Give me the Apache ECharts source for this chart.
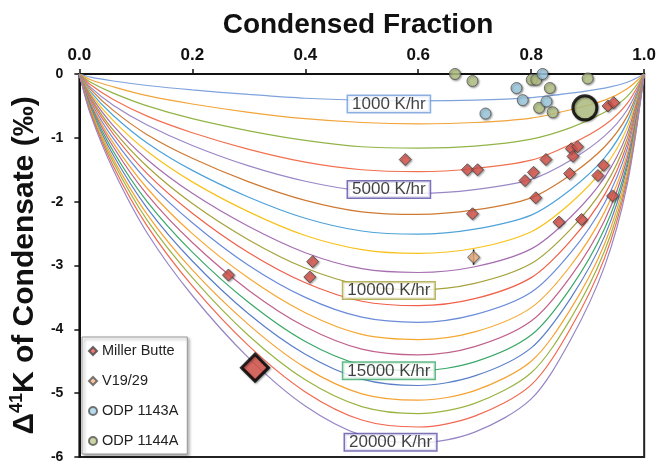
<!DOCTYPE html>
<html>
<head>
<meta charset="utf-8">
<script src="https://cdn.jsdelivr.net/npm/echarts@6/dist/echarts.min.js"></script>
<style>
  html, body { margin: 0; padding: 0; background: #fff; }
  #chart { width: 659px; height: 464px; }
</style>
</head>
<body>
<div id="chart"></div>
<script>
// Condensed fraction sample positions shared by every model curve
const fractions = [0, 0.02, 0.06, 0.12, 0.2, 0.3, 0.4, 0.5, 0.6, 0.7, 0.8, 0.87, 0.93, 0.97, 1];

// Model curves: Δ41K of condensate (‰) at each fraction, one per cooling rate
const k1000  = [0, -0.05, -0.11, -0.18, -0.25, -0.32, -0.38, -0.41, -0.42, -0.41, -0.37, -0.30, -0.22, -0.13, 0];
const k2000  = [0, -0.09, -0.20, -0.34, -0.47, -0.60, -0.70, -0.76, -0.78, -0.76, -0.69, -0.56, -0.41, -0.23, 0];
const k3000  = [0, -0.13, -0.30, -0.50, -0.70, -0.89, -1.04, -1.14, -1.16, -1.13, -1.02, -0.84, -0.60, -0.35, 0];
const k4000  = [0, -0.17, -0.40, -0.66, -0.92, -1.18, -1.38, -1.50, -1.53, -1.48, -1.35, -1.10, -0.80, -0.46, 0];
const k5000  = [0, -0.21, -0.49, -0.80, -1.12, -1.44, -1.68, -1.83, -1.87, -1.81, -1.65, -1.35, -0.97, -0.56, 0];
const k6000  = [0, -0.24, -0.57, -0.95, -1.32, -1.69, -1.98, -2.16, -2.20, -2.13, -1.94, -1.58, -1.14, -0.66, 0];
const k7000  = [0, -0.28, -0.65, -1.08, -1.51, -1.93, -2.26, -2.46, -2.51, -2.43, -2.21, -1.81, -1.31, -0.75, 0];
const k8000  = [0, -0.31, -0.73, -1.21, -1.69, -2.16, -2.53, -2.75, -2.81, -2.73, -2.47, -2.02, -1.46, -0.84, 0];
const k9000  = [0, -0.34, -0.81, -1.34, -1.87, -2.39, -2.80, -3.05, -3.11, -3.02, -2.74, -2.24, -1.62, -0.93, 0];
const k10000 = [0, -0.37, -0.88, -1.45, -2.03, -2.60, -3.04, -3.31, -3.38, -3.28, -2.97, -2.43, -1.76, -1.01, 0];
const k11000 = [0, -0.40, -0.94, -1.56, -2.18, -2.80, -3.27, -3.56, -3.63, -3.52, -3.19, -2.61, -1.89, -1.09, 0];
const k12000 = [0, -0.43, -1.01, -1.67, -2.33, -3.00, -3.50, -3.81, -3.89, -3.77, -3.42, -2.80, -2.02, -1.17, 0];
const k13000 = [0, -0.46, -1.08, -1.79, -2.50, -3.20, -3.74, -4.08, -4.16, -4.04, -3.66, -3.00, -2.16, -1.25, 0];
const k14000 = [0, -0.48, -1.14, -1.89, -2.64, -3.39, -3.96, -4.31, -4.40, -4.27, -3.87, -3.17, -2.29, -1.32, 0];
const k15000 = [0, -0.51, -1.21, -2.00, -2.79, -3.58, -4.19, -4.56, -4.65, -4.51, -4.09, -3.35, -2.42, -1.40, 0];
const k16000 = [0, -0.54, -1.27, -2.10, -2.93, -3.76, -4.39, -4.78, -4.88, -4.73, -4.29, -3.51, -2.54, -1.46, 0];
const k17000 = [0, -0.56, -1.33, -2.20, -3.07, -3.93, -4.60, -5.01, -5.11, -4.96, -4.50, -3.68, -2.66, -1.53, 0];
const k18000 = [0, -0.59, -1.38, -2.29, -3.19, -4.10, -4.79, -5.21, -5.32, -5.16, -4.68, -3.83, -2.77, -1.60, 0];
const k19000 = [0, -0.61, -1.44, -2.38, -3.32, -4.26, -4.98, -5.42, -5.53, -5.36, -4.87, -3.98, -2.88, -1.66, 0];
const k20000 = [0, -0.64, -1.50, -2.49, -3.47, -4.45, -5.20, -5.66, -5.78, -5.61, -5.09, -4.16, -3.01, -1.73, 0];

const rates = [1000, 2000, 3000, 4000, 5000, 6000, 7000, 8000, 9000, 10000,
               11000, 12000, 13000, 14000, 15000, 16000, 17000, 18000, 19000, 20000];
const curveRows = [k1000, k2000, k3000, k4000, k5000, k6000, k7000, k8000, k9000, k10000,
                   k11000, k12000, k13000, k14000, k15000, k16000, k17000, k18000, k19000, k20000];
const curveColors = ['#7ea3dc', '#f2a43a', '#92b447', '#f2704f', '#9a87c6', '#cf7a33', '#4ea3d8',
                     '#f8c21c', '#a66fb0', '#a6a23c', '#f0604a', '#6a8bd8', '#f7a731', '#c0628c',
                     '#3aa868', '#5a7fc8', '#f5a233', '#9ab443', '#f2674f', '#9786c4'];

// Labelled rates and where their tags sit
const tagRates = ['1000 K/hr', '5000 K/hr', '10000 K/hr', '15000 K/hr', '20000 K/hr'];
const tagX = [0.548, 0.548, 0.548, 0.548, 0.551];
const tagY = [-0.47, -1.81, -3.39, -4.65, -5.77];
const tagBorder = ['#6f9ad8', '#5a4fa6', '#a6a23c', '#3aa868', '#5a4fa6'];

// Measured samples
const millerX = [0.936, 0.946, 0.577, 0.687, 0.705, 0.826, 0.871, 0.882, 0.874, 0.804, 0.789, 0.868,
                 0.928, 0.918, 0.808, 0.696, 0.944, 0.849, 0.889, 0.264, 0.413, 0.408];
const millerY = [-0.50, -0.45, -1.34, -1.50, -1.50, -1.34, -1.17, -1.14, -1.29, -1.54, -1.67, -1.56,
                 -1.43, -1.59, -1.94, -2.19, -1.91, -2.32, -2.28, -3.15, -2.94, -3.18];
const millerMeanX = [0.311];
const millerMeanY = [-4.60];

const v1929X = [0.698];
const v1929Y = [-2.87];
const v1929Err = [0.12];

const odp1143X = [0.820, 0.774, 0.785, 0.827, 0.719];
const odp1143Y = [0.00, -0.22, -0.41, -0.43, -0.62];

const odp1144X = [0.665, 0.696, 0.801, 0.809, 0.833, 0.900, 0.814, 0.838];
const odp1144Y = [-0.00, -0.11, -0.09, -0.09, -0.22, -0.07, -0.53, -0.60];
const odp1144MeanX = [0.895];
const odp1144MeanY = [-0.53];

const tickLabels = ['0.0', '0.2', '0.4', '0.6', '0.8', '1.0'];

const FONT = 'Liberation Sans, Arial, sans-serif';
const zip = (xs, ys) => xs.map((x, i) => [x, ys[i]]);
const markShadow = { shadowBlur: 2, shadowOffsetX: 1, shadowOffsetY: 1, shadowColor: 'rgba(0,0,0,0.45)' };

const series = [];

curveRows.forEach((row, i) => {
  series.push({
    name: rates[i] + ' K/hr',
    type: 'line',
    data: zip(fractions, row),
    symbol: 'none',
    smooth: 0.3,
    lineStyle: { color: curveColors[i], width: 1.2 },
    z: 2,
    silent: true
  });
});

series.push({
  name: 'rateTags',
  type: 'scatter',
  data: tagRates.map((t, i) => ({ value: [tagX[i], tagY[i]], label: { borderColor: tagBorder[i] } })),
  symbolSize: 0,
  z: 5,
  label: {
    show: true,
    position: 'inside',
    formatter: (p) => tagRates[p.dataIndex],
    fontFamily: FONT,
    fontSize: 17,
    color: '#111',
    backgroundColor: '#fff',
    borderWidth: 1.5,
    padding: [0, 4, -1, 4]
  }
});

// Error bar of the V19/29 sample
series.push({
  name: 'v1929bar',
  type: 'line',
  data: [[v1929X[0], v1929Y[0] - v1929Err[0]], [v1929X[0], v1929Y[0] + v1929Err[0]]],
  symbol: 'none',
  lineStyle: { color: '#111', width: 1.5 },
  z: 6,
  silent: true
});

series.push({
  name: 'ODP 1144A',
  type: 'scatter',
  data: zip(odp1144X, odp1144Y),
  symbol: 'circle',
  symbolSize: 11,
  itemStyle: Object.assign({ color: '#bccb8b', borderColor: '#555', borderWidth: 1 }, markShadow),
  z: 7
});
series.push({
  name: 'ODP 1143A',
  type: 'scatter',
  data: zip(odp1143X, odp1143Y),
  symbol: 'circle',
  symbolSize: 11,
  itemStyle: Object.assign({ color: '#a5d3ea', borderColor: '#555', borderWidth: 1 }, markShadow),
  z: 7
});
series.push({
  name: 'V19/29',
  type: 'scatter',
  data: zip(v1929X, v1929Y),
  symbol: 'diamond',
  symbolSize: 12,
  itemStyle: Object.assign({ color: '#f8b98a', borderColor: '#555', borderWidth: 1 }, markShadow),
  z: 8
});
series.push({
  name: 'Miller Butte',
  type: 'scatter',
  data: zip(millerX, millerY),
  symbol: 'diamond',
  symbolSize: 12,
  itemStyle: Object.assign({ color: '#e0584f', borderColor: '#444', borderWidth: 1 }, markShadow),
  z: 8
});
series.push({
  name: 'Miller Butte mean',
  type: 'scatter',
  data: zip(millerMeanX, millerMeanY),
  symbol: 'diamond',
  symbolSize: 27,
  itemStyle: Object.assign({ color: '#e0584f', borderColor: '#000', borderWidth: 3 }, markShadow),
  z: 9
});
series.push({
  name: 'ODP 1144A mean',
  type: 'scatter',
  data: zip(odp1144MeanX, odp1144MeanY),
  symbol: 'circle',
  symbolSize: 24,
  itemStyle: Object.assign({ color: '#bccb8b', borderColor: '#000', borderWidth: 3 }, markShadow),
  z: 9
});

const chart = echarts.init(document.getElementById('chart'), null, { renderer: 'canvas' });
chart.setOption({
  animation: false,
  backgroundColor: '#fff',
  title: {
    text: 'Condensed Fraction',
    left: 353,
    top: 6,
    textAlign: 'center',
    textStyle: { fontFamily: FONT, fontSize: 28, fontWeight: 'bold', color: '#111' }
  },
  grid: {
    left: 76, right: 14, top: 74, bottom: 4,
    show: true, borderColor: '#222', borderWidth: 2,
    backgroundColor: 'transparent'
  },
  legend: {
    data: ['Miller Butte', 'V19/29', 'ODP 1143A', 'ODP 1144A'],
    orient: 'vertical',
    left: 82, top: 337,
    itemWidth: 8, itemHeight: 8, itemGap: 14,
    padding: [6, 9, 5, 6],
    backgroundColor: '#fff',
    borderColor: '#999', borderWidth: 1,
    shadowBlur: 3, shadowOffsetX: 2, shadowOffsetY: 2, shadowColor: 'rgba(0,0,0,0.35)',
    textStyle: { fontFamily: FONT, fontSize: 14.5, lineHeight: 16, color: '#222' }
  },
  xAxis: {
    type: 'value',
    position: 'top',
    min: 0, max: 1, interval: 0.2,
    axisLine: { show: true, lineStyle: { color: '#111', width: 2 } },
    axisTick: { show: true, inside: false, length: 5, lineStyle: { color: '#111', width: 1.5 } },
    axisLabel: {
      formatter: (v) => tickLabels[Math.round(v / 0.2)],
      fontFamily: FONT, fontSize: 17, fontWeight: 'bold', color: '#111', margin: 10
    },
    splitLine: { show: false }
  },
  yAxis: {
    type: 'value',
    min: -6, max: 0, interval: 1,
    axisLine: { show: true, lineStyle: { color: '#111', width: 2 } },
    axisTick: { show: true, inside: false, length: 5, lineStyle: { color: '#111', width: 1.5 } },
    axisLabel: { fontFamily: FONT, fontSize: 14, fontWeight: 'bold', color: '#111', margin: 16 },
    splitLine: { show: false },
    name: '{d|Δ}{s|41}{d|K of Condensate (‰)}',
    nameLocation: 'middle',
    nameRotate: 90,
    nameGap: 34,
    nameTextStyle: {
      rich: {
        d: { fontFamily: FONT, fontSize: 30, fontWeight: 'bold', color: '#111' },
        s: { fontFamily: FONT, fontSize: 18, fontWeight: 'bold', color: '#111', padding: [0, 0, 16, 0] }
      }
    }
  },
  series: series
});
</script>
</body>
</html>
